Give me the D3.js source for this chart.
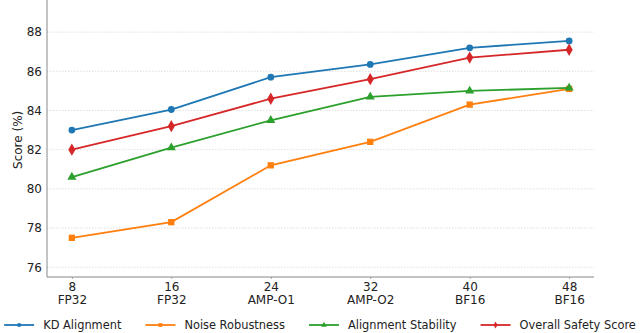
<!DOCTYPE html>
<html>
<head>
<meta charset="utf-8">
<script src="https://cdn.jsdelivr.net/npm/d3@7"></script>
<style>
  body { margin: 0; background: #fff; }
  svg { display: block; font-family: "DejaVu Sans", sans-serif; }
</style>
</head>
<body>
<script>
const batchSizes = [8, 16, 24, 32, 40, 48];
const precisions = ["FP32", "FP32", "AMP-O1", "AMP-O2", "BF16", "BF16"];
const yTicks = [76, 78, 80, 82, 84, 86, 88];

const kdAlignment = [83.0, 84.05, 85.7, 86.35, 87.2, 87.55];
const noiseRobustness = [77.5, 78.3, 81.2, 82.4, 84.3, 85.1];
const alignmentStability = [80.6, 82.1, 83.5, 84.7, 85.0, 85.15];
const overallSafety = [82.0, 83.2, 84.6, 85.6, 86.7, 87.1];

const series = [
  { name: "KD Alignment", values: kdAlignment, color: "#1f77b4", marker: d3.symbolCircle, size: 36 },
  { name: "Noise Robustness", values: noiseRobustness, color: "#ff7f0e", marker: d3.symbolSquare, size: 40 },
  { name: "Alignment Stability", values: alignmentStability, color: "#2ca02c", marker: d3.symbolTriangle, size: 36 },
  { name: "Overall Safety Score", values: overallSafety, color: "#d62728", marker: d3.symbolDiamond, size: 44 }
];

const w = 640, h = 333;
const svg = d3.select("body").append("svg").attr("width", w).attr("height", h);

const x = d3.scaleLinear().domain([6, 50]).range([47, 594]);
const y = d3.scaleLinear().domain([75.5, 89.64]).range([277, 0]);

// grid
svg.append("g")
  .selectAll("line")
  .data(yTicks)
  .join("line")
  .attr("x1", 47).attr("x2", 594)
  .attr("y1", d => y(d)).attr("y2", d => y(d))
  .attr("stroke", "#d8d8d8")
  .attr("stroke-width", 0.8)
  .attr("stroke-dasharray", "1.5,1.5");

// y axis
const yAxis = svg.append("g")
  .attr("transform", "translate(47,0)")
  .call(d3.axisLeft(y).tickValues(yTicks).tickSize(0).tickPadding(5));
yAxis.select(".domain").remove();
yAxis.selectAll("text").attr("font-size", 12).attr("fill", "#222").attr("font-family", "DejaVu Sans");

// x axis
const xAxis = svg.append("g")
  .attr("transform", "translate(0,277)")
  .call(d3.axisBottom(x).tickValues(batchSizes).tickSize(2).tickFormat(""));
xAxis.select(".domain").remove();
xAxis.selectAll(".tick line").attr("stroke", "#aaa");
xAxis.selectAll(".tick").append("text")
  .attr("fill", "#222")
  .attr("font-size", 12)
  .attr("font-family", "DejaVu Sans")
  .attr("text-anchor", "middle")
  .each(function (d, i) {
    const t = d3.select(this);
    t.append("tspan").attr("x", 0).attr("y", 13.5).text(d);
    t.append("tspan").attr("x", 0).attr("y", 27).text(precisions[i]);
  });

// spines
svg.append("line").attr("x1", 47).attr("x2", 47).attr("y1", 0).attr("y2", 277)
  .attr("stroke", "#888").attr("stroke-width", 1);
svg.append("line").attr("x1", 47).attr("x2", 594).attr("y1", 277).attr("y2", 277)
  .attr("stroke", "#888").attr("stroke-width", 1);

// y label
svg.append("text")
  .attr("transform", `translate(22,${y(82.5)}) rotate(-90)`)
  .attr("text-anchor", "middle")
  .attr("font-size", 12)
  .attr("fill", "#222")
  .text("Score (%)");

const line = d3.line()
  .x((d, i) => x(batchSizes[i]))
  .y(d => y(d));

series.forEach(s => {
  svg.append("path")
    .datum(s.values)
    .attr("d", line)
    .attr("fill", "none")
    .attr("stroke", s.color)
    .attr("stroke-width", 1.8);

  svg.append("g")
    .selectAll("path")
    .data(s.values)
    .join("path")
    .attr("transform", (d, i) => `translate(${x(batchSizes[i])},${y(d)})`)
    .attr("d", d3.symbol().type(s.marker).size(s.size))
    .attr("fill", s.color);
});

// legend
const legend = svg.append("g").attr("transform", "translate(0,325)");
const items = [];
series.forEach(s => {
  const g = legend.append("g");
  g.append("line").attr("x1", 0).attr("x2", 30).attr("y1", 0).attr("y2", 0)
    .attr("stroke", s.color).attr("stroke-width", 1.8);
  g.append("path").attr("transform", "translate(15,0)")
    .attr("d", d3.symbol().type(s.marker).size(14))
    .attr("fill", s.color);
  const t = g.append("text").attr("x", 39).attr("y", 4.3)
    .attr("font-size", 11.4).attr("fill", "#222").text(s.name);
  items.push({ g, wItem: 39 + t.node().getComputedTextLength() });
});
const gap = 24;
const total = d3.sum(items, d => d.wItem) + gap * (items.length - 1);
let cx = (w - total) / 2;
items.forEach(it => {
  it.g.attr("transform", `translate(${cx},0)`);
  cx += it.wItem + gap;
});
</script>
</body>
</html>
